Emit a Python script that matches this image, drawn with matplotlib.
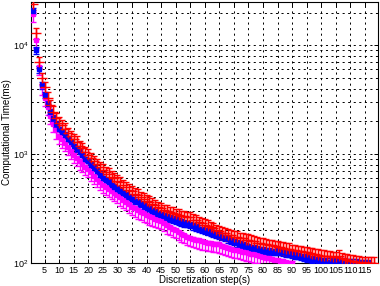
import numpy as np
import matplotlib
matplotlib.use('Agg')
import matplotlib.pyplot as plt
from matplotlib.ticker import FixedLocator, LogLocator, NullFormatter

plt.rcParams['font.family'] = ['Liberation Sans', 'DejaVu Sans']
plt.rcParams['lines.scale_dashes'] = False

# computational time (ms) per discretization step
red_time = [24000, 13000, 7000, 5000, 4100, 3300, 2800, 2450, 2150, 1950,
            1850, 1720, 1560, 1470, 1370, 1300, 1190, 1140, 1040, 990,
            920, 860, 810, 760, 720, 680, 660, 620, 605, 570,
            550, 520, 500, 470, 455, 435, 425, 400, 390, 375,
            365, 350, 338, 325, 318, 305, 302, 292, 290, 282,
            278, 270, 268, 262, 262, 250, 246, 236, 232, 225,
            220, 212, 208, 200, 197, 190, 188, 182, 180, 175,
            174, 169, 168, 164, 164, 160, 158, 154, 153, 150,
            149, 146, 145, 142, 141, 139, 138, 135, 135, 132,
            132, 129, 129, 126, 126, 123, 122, 120, 119, 117,
            117, 115, 115, 113, 113, 117, 111, 108, 107, 105,
            105, 103, 103, 101, 102, 100.5, 101, 100.5]
blue_time = [20700, 9000, 6000, 4300, 3500, 2900, 2450, 2150, 1900, 1720,
             1600, 1500, 1380, 1280, 1200, 1120, 1040, 980, 910, 860,
             800, 750, 700, 650, 610, 580, 550, 525, 500, 480,
             460, 440, 420, 405, 390, 375, 362, 350, 335, 322,
             312, 302, 292, 283, 275, 268, 262, 256, 250, 245,
             240, 236, 232, 228, 224, 218, 212, 207, 202, 198,
             194, 190, 186, 182, 179, 175, 170, 165, 160, 156,
             152, 148, 145, 142, 140, 138, 136, 134, 132, 130,
             129, 128, 127, 127, 128, 127, 125, 123, 121, 120,
             118, 116, 114, 112, 110, 109, 108, 106, 105, 104,
             104, 103, 103, 102, 104, 102, 103, 102, 101, 102,
             101, 101, 100.5, 100.5, 100.5, 100.2]
magenta_time = [19500, 11200, 6300, 4200, 3300, 2700, 2250, 1900, 1650, 1480,
                1370, 1270, 1160, 1070, 990, 920, 860, 810, 770, 730,
                680, 630, 590, 555, 520, 500, 480, 460, 440, 420,
                400, 380, 362, 345, 330, 318, 305, 295, 285, 275,
                268, 262, 255, 250, 242, 232, 222, 214, 206, 200,
                192, 186, 180, 175, 170, 167, 164, 161, 158, 156,
                154, 152, 151, 150, 148, 144, 141, 138, 135, 133,
                131, 129, 127, 125, 124, 122, 120, 118, 116, 114,
                112, 111, 109, 107, 106, 105, 104, 102, 101, 100.5]

# relative spread of the error bars (down, up)
red_spread = (0.12, 0.12)
blue_spread = (0.07, 0.07)
magenta_spread = (0.16, 0.03)

x_ticks = list(range(5, 120, 5))

fig = plt.figure(figsize=(3.8, 2.86), dpi=100)
ax = fig.add_axes([31.5 / 380, 23 / 286, 346.5 / 380, 261 / 286])


def draw(series, spread, color, marker, ms):
    y = np.array(series, dtype=float)
    x = np.arange(1, len(y) + 1)
    err = [y * spread[0], y * spread[1]]
    ax.errorbar(x, y, yerr=err, fmt=marker, color=color, ms=ms, mew=1.0,
                elinewidth=1.0, capsize=2.5, capthick=1.0, zorder=3)


# magenta drawn first so blue and red sit on top of it
draw(magenta_time, magenta_spread, '#ff00ff', 's', 2.5)
draw(blue_time, blue_spread, '#0000ff', 's', 3)
draw(red_time, red_spread, '#ff0000', '+', 7)

ax.set_yscale('log')
ax.set_xlim(0.5, 119.5)
ax.set_ylim(100, 25000)
ax.xaxis.set_major_locator(FixedLocator(x_ticks))
ax.yaxis.set_major_locator(LogLocator(base=10))
ax.yaxis.set_minor_locator(LogLocator(base=10, subs=np.arange(2, 10)))
ax.yaxis.set_minor_formatter(NullFormatter())

grid_style = dict(color='k', linestyle=(0, (1.5, 2.5)), linewidth=0.7)
ax.grid(True, which='major', axis='both', **grid_style)
ax.grid(True, which='minor', axis='y', **grid_style)
ax.set_axisbelow(True)

ax.tick_params(which='both', direction='in', top=True, right=True,
               labelsize=6.5, length=3, width=0.7, pad=2)
ax.tick_params(which='minor', length=1.5)
for s in ax.spines.values():
    s.set_linewidth(0.8)

ax.set_xlabel('Discretization step(s)', fontsize=7, labelpad=0)
ax.set_ylabel('Computational Time(ms)', fontsize=7, labelpad=1)

fig.savefig('out.png', dpi=100)
